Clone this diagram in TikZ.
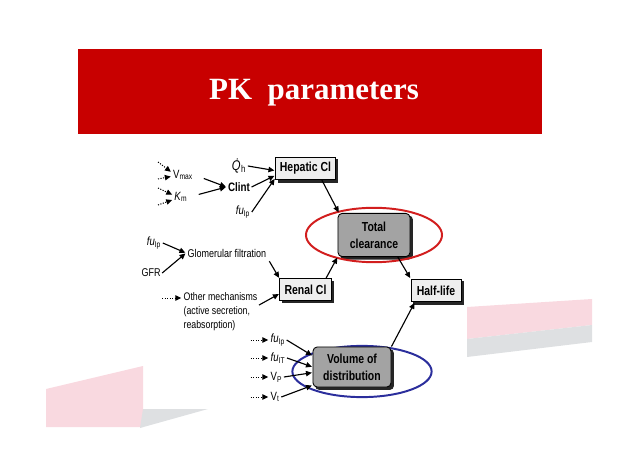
\documentclass[tikz,border=0pt]{standalone}
\usepackage{fontspec}
\setmainfont{Liberation Sans}
\newfontfamily\diafont[FakeStretch=0.8]{Liberation Sans}
\newfontfamily\titlefont{Liberation Serif}
\usetikzlibrary{arrows.meta,positioning,calc,backgrounds}
\definecolor{banred}{HTML}{C80000}
\definecolor{ringred}{HTML}{D21E1E}
\definecolor{ringblue}{HTML}{2B2E9C}
\definecolor{boxlight}{HTML}{EEEEEE}
\definecolor{boxdark}{HTML}{A3A3A3}
\definecolor{swpink}{HTML}{F9D9E0}
\definecolor{swgrey}{HTML}{DEE0E2}
\newcommand{\fuv}[1]{\textit{fu}\textsubscript{#1}}

\begin{document}
\begin{tikzpicture}[x=0.025cm, y=-0.025cm,
  box/.style ={draw=black, line width=0.6pt, fill=boxlight, text=black, align=center, inner sep=1pt,
               font=\diafont\fontsize{9.3}{12}\selectfont\bfseries},
  dbox/.style={box, fill=boxdark, rounded corners=3pt},
  shd/.style ={fill=black!85},
  lbl/.style ={inner sep=1pt, font=\diafont\fontsize{8}{9.5}\selectfont},
  ar/.style  ={-{Triangle[length=4.2pt,width=3.8pt]}, line width=0.8pt, shorten >=0.5pt},
  dar/.style ={ar, densely dotted, line width=0.7pt},
  ring/.style={line width=1.4pt}
]
\useasboundingbox (0,0) rectangle (638,452);

% ---------- slide background ----------
\fill[swpink] (46,389) -- (143,366) -- (143,427) -- (46,427) -- cycle;
\fill[swgrey] (143,409) -- (208,409) -- (140,428) -- cycle;
\fill[swpink] (467,307) -- (592,299) -- (592,325) -- (467,339) -- cycle;
\fill[swgrey] (467,339) -- (592,325) -- (592,342) -- (467,357) -- cycle;

% ---------- rings ----------
\draw[ringred, ring] (374,235) ellipse [x radius=1.7cm, y radius=0.68cm];
\draw[ringblue, ring] (362,371.5) ellipse [x radius=1.74cm, y radius=0.64cm];

% ---------- boxes ----------
\node[box, minimum width=1.5cm, minimum height=0.56cm]   (hep)  at (305.5,168.5) {Hepatic Cl};
\node[dbox, minimum width=1.8cm, minimum height=1.08cm]  (tot)  at (374,235)     {Total\\clearance};
\node[box, minimum width=1.28cm, minimum height=0.53cm]  (ren)  at (305.5,289.5) {Renal Cl};
\node[box, minimum width=1.25cm, minimum height=0.57cm]  (half) at (436,290.5)   {Half-life};
\node[dbox, minimum width=1.95cm, minimum height=1cm]    (vol)  at (352,367)     {Volume of\\distribution};

\begin{scope}[on background layer]
  \foreach \b in {hep,ren,half}
    \fill[shd] ([shift={(1.8pt,-1.8pt)}]\b.south west) rectangle ([shift={(1.8pt,-1.8pt)}]\b.north east);
  \foreach \b in {tot,vol}
    \fill[shd, rounded corners=3pt] ([shift={(1.8pt,-1.8pt)}]\b.south west) rectangle ([shift={(1.8pt,-1.8pt)}]\b.north east);
\end{scope}

\draw[ar] ([xshift=-10pt]hep.south east) -- ([xshift=1pt]tot.north west);
\draw[ar] ([xshift=-4pt]ren.north east) -- (tot.south west);
\draw[ar] ([xshift=-9pt]tot.south east) -- (half.north west);
\draw[ar] (vol.north east) -- ([xshift=3pt]half.south west);

% ---------- hepatic inputs ----------
\node[lbl, font=\diafont\fontsize{10}{10}\selectfont] (qh) at (239,166) {\textit{\.{Q}}\textsubscript{h}};
\node[lbl, font=\diafont\fontsize{8.7}{10}\selectfont\bfseries] (clint) at (239,187) {Clint};
\node[lbl, font=\diafont\fontsize{8.5}{10}\selectfont] (fuh) at (243,212) {\fuv{Ip}};
\node[lbl, font=\diafont\fontsize{8.5}{10}\selectfont] (vmax) at (183,175) {V\textsubscript{max}};
\node[lbl, font=\diafont\fontsize{8.5}{10}\selectfont] (km)   at (181,197) {\textit{K}\textsubscript{m}};

\coordinate (dv1) at (158,162);
\coordinate (dv2) at (158,179);
\coordinate (dk1) at (158,188);
\coordinate (dk2) at (158,205);
\draw[dar] (dv1) -- ([yshift=2pt]vmax.west);
\draw[dar] (dv2) -- ([yshift=-1pt]vmax.west);
\draw[dar] (dk1) -- ([yshift=1.5pt]km.west);
\draw[dar] (dk2) -- ([yshift=-2pt]km.west);

\draw[ar, shorten <=7pt] (vmax.east) -- (clint.west);
\draw[ar, shorten <=7pt] (km.east) -- (clint.west);
\draw[ar] (qh.east) -- ([yshift=-1.5pt]hep.west);
\draw[ar] (clint.east) -- ([yshift=-5pt]hep.west);
\draw[ar] (fuh.east) -- ([yshift=-7pt]hep.west);

% ---------- renal inputs ----------
\node[lbl, font=\diafont\fontsize{8.5}{10}\selectfont] (fur) at (154,243) {\fuv{Ip}};
\node[lbl] (gfr) at (151,273) {GFR};
\node[lbl, anchor=west] (glom) at (186,253) {Glomerular filtration};
\node[lbl, anchor=north west, align=left, font=\diafont\fontsize{7.8}{10}\selectfont] (other) at (182,291)
  {Other mechanisms\\(active secretion,\\reabsorption)};

\coordinate (doth) at (162,298);
\draw[dar] (doth) -- (doth -| other.west);
\draw[ar] (fur.east) -- (glom.west);
\draw[ar] (gfr.east) -- (glom.west);
\draw[ar, shorten <=2pt] (glom.south east) -- (ren.north west);
\draw[ar] ([yshift=-10pt]other.north east) -- ([yshift=-3pt]ren.west);

% ---------- distribution inputs ----------
\node[lbl, anchor=west, font=\diafont\fontsize{8.5}{10}\selectfont] (fv1) at (269,340) {\fuv{Ip}};
\node[lbl, anchor=west, font=\diafont\fontsize{8.5}{10}\selectfont] (fv2) at (269,358) {\fuv{IT}};
\node[lbl, anchor=west, font=\diafont\fontsize{8.5}{10}\selectfont] (vp)  at (269,377) {V\textsubscript{P}};
\node[lbl, anchor=west, font=\diafont\fontsize{8.5}{10}\selectfont] (vt)  at (269,397) {V\textsubscript{t}};

\foreach \s in {fv1,fv2,vp,vt}{
  \coordinate (d\s) at ([xshift=-13pt]\s.west);
  \draw[dar] (d\s) -- (\s.west);
}
\draw[ar] (fv1.east) -- ([yshift=8pt]vol.west);
\draw[ar] (fv2.east) -- (vol.west);
\draw[ar] (vp.east) -- ([yshift=-4pt]vol.west);
\draw[ar] (vt.east) -- ([yshift=-13pt]vol.west);

% ---------- title banner ----------
\fill[banred] (78,49) rectangle (542,134);
\node[font=\titlefont\fontsize{22}{24}\selectfont\bfseries, text=white] (title) at (314,93)
  {PK\ \ parameters};
\end{tikzpicture}
\end{document}
